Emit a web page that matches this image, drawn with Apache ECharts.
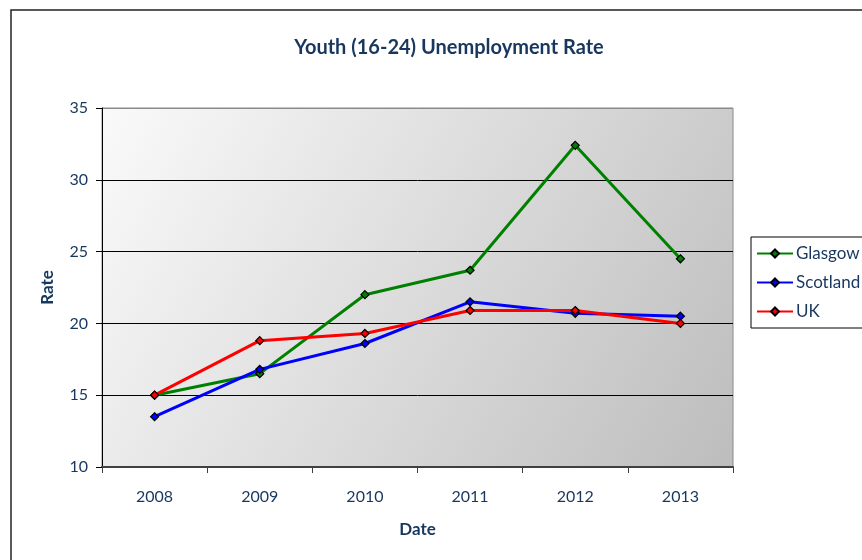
<!DOCTYPE html>
<html>
<head>
<meta charset="utf-8">
<script src="https://cdn.jsdelivr.net/npm/echarts@6/dist/echarts.min.js"></script>
<style>
  html, body { margin: 0; padding: 0; background: #ffffff; }
  #chart { width: 862px; height: 560px; }
</style>
</head>
<body>
<div id="chart"></div>
<script>
// Youth (16-24) unemployment rate, by year
const years = ['2008', '2009', '2010', '2011', '2012', '2013'];
const glasgow = [15.0, 16.5, 22.0, 23.7, 32.4, 24.5];
const scotland = [13.5, 16.8, 18.6, 21.5, 20.7, 20.5];
const uk = [15.0, 18.8, 19.3, 20.9, 20.9, 20.0];

const textColor = '#17375e';
const fontFamily = 'Lato, "Open Sans", sans-serif';

function lineSeries(name, data, color) {
  return {
    name: name,
    type: 'line',
    data: data,
    symbol: 'diamond',
    symbolSize: 8,
    showSymbol: true,
    lineStyle: { color: color, width: 3 },
    itemStyle: { color: color, borderColor: '#000', borderWidth: 1.2 },
    emphasis: { disabled: true },
    animation: false
  };
}

const chart = echarts.init(document.getElementById('chart'));
chart.setOption({
  animation: false,
  textStyle: { fontFamily: fontFamily },
  title: {
    text: 'Youth (16-24) Unemployment Rate',
    left: 444,
    textAlign: 'center',
    top: 33,
    textStyle: { color: textColor, fontSize: 20, fontWeight: 'bold', fontFamily: fontFamily }
  },
  graphic: [{
    type: 'rect',
    shape: { x: 11, y: 10, width: 900, height: 600 },
    style: { fill: 'none', stroke: '#222', lineWidth: 1.5 },
    silent: true,
    z: -10
  }],
  legend: {
    orient: 'vertical',
    left: 751,
    top: 237,
    itemWidth: 36,
    itemHeight: 10,
    itemGap: 12,
    padding: [8, 20, 8, 5],
    borderColor: '#000',
    borderWidth: 1,
    backgroundColor: '#fff',
    textStyle: { color: textColor, fontSize: 17, fontFamily: fontFamily, padding: [0, 0, 0, -2] },
    data: ['Glasgow', 'Scotland', 'UK']
  },
  grid: {
    left: 102,
    right: 129,
    top: 108,
    bottom: 93,
    show: true,
    borderColor: '#8a8a8a',
    borderWidth: 1,
    backgroundColor: new echarts.graphic.LinearGradient(0, 0, 1, 1, [
      { offset: 0, color: '#fafafa' },
      { offset: 1, color: '#bdbdbd' }
    ])
  },
  xAxis: {
    type: 'category',
    data: years,
    boundaryGap: true,
    name: 'Date',
    nameLocation: 'middle',
    nameGap: 54,
    nameTextStyle: { color: textColor, fontSize: 17, fontWeight: 'bold', fontFamily: fontFamily },
    axisLine: { lineStyle: { color: '#404040', width: 2 } },
    axisTick: { show: true, alignWithLabel: false, length: 6, lineStyle: { color: '#404040', width: 1 } },
    axisLabel: { color: textColor, fontSize: 16, margin: 22, fontFamily: fontFamily },
    splitLine: { show: false }
  },
  yAxis: {
    type: 'value',
    min: 10,
    max: 35,
    interval: 5,
    name: 'Rate',
    nameLocation: 'middle',
    nameGap: 46,
    nameRotate: 90,
    nameTextStyle: { color: textColor, fontSize: 17, fontWeight: 'bold', fontFamily: fontFamily },
    axisLine: { show: true, lineStyle: { color: '#000', width: 1 } },
    axisTick: { show: true, length: 6, lineStyle: { color: '#000' } },
    axisLabel: { color: textColor, fontSize: 16, margin: 14, fontFamily: fontFamily },
    splitLine: {
      show: true,
      lineStyle: { color: ['#000', '#000', '#000', '#000', '#000', '#8a8a8a'], width: 1 }
    }
  },
  series: [
    lineSeries('Glasgow', glasgow, '#008000'),
    lineSeries('Scotland', scotland, '#0000ff'),
    lineSeries('UK', uk, '#ff0000')
  ]
});
</script>
</body>
</html>
